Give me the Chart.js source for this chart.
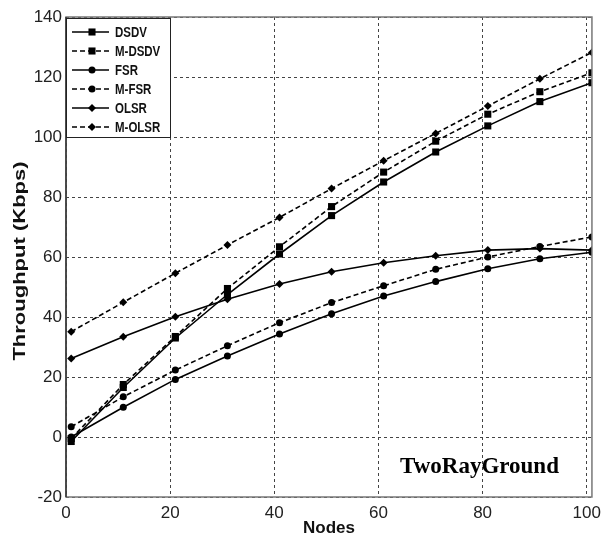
<!DOCTYPE html>
<html>
<head>
<meta charset="utf-8">
<script src="https://cdn.jsdelivr.net/npm/chart.js@4"></script>
<style>
  html, body { margin: 0; padding: 0; background: #fff; }
  #wrap { width: 607px; height: 537px; }
</style>
</head>
<body>
<div id="wrap"><canvas id="c" width="607" height="537"></canvas></div>
<script>
// Throughput vs. number of nodes, TwoRayGround propagation model
const nodes = [1, 11, 21, 31, 41, 51, 61, 71, 81, 91, 101];
const dsdv  = [-1.5, 16.5, 33.0, 47.5, 61.0, 73.8, 85.0, 95.0, 103.7, 111.8, 118.1];
const mDsdv = [-0.5, 17.5, 33.5, 49.5, 63.4, 76.8, 88.3, 98.6, 107.6, 115.1, 121.4];
const fsr   = [0.0, 9.9, 19.2, 27.0, 34.3, 41.1, 47.0, 51.8, 56.1, 59.4, 61.6];
const mFsr  = [3.4, 13.4, 22.3, 30.4, 38.1, 44.8, 50.4, 55.9, 60.0, 63.5, 66.7];
const olsr  = [26.2, 33.4, 40.1, 45.9, 51.0, 55.1, 58.1, 60.4, 62.3, 62.8, 62.3];
const mOlsr = [35.1, 44.9, 54.6, 64.0, 73.2, 82.8, 92.1, 101.2, 110.3, 119.4, 128.2];
const seriesNames = ['DSDV', 'M-DSDV', 'FSR', 'M-FSR', 'OLSR', 'M-OLSR'];
const xTicks = [0, 20, 40, 60, 80, 100];
const yTicks = [-20, 0, 20, 40, 60, 80, 100, 120, 140];
const xTitle = 'Nodes';
const yTitle = 'Throughput (Kbps)';
const annotation = 'TwoRayGround';

const sans = "'Liberation Sans', Arial, sans-serif";
const DASH = [5, 3];

const styles = [
  { point: 'rect',    radius: 5,   dash: [] },
  { point: 'rect',    radius: 5,   dash: DASH },
  { point: 'circle',  radius: 3.5, dash: [] },
  { point: 'circle',  radius: 3.5, dash: DASH },
  { point: 'rectRot', radius: 4,   dash: [] },
  { point: 'rectRot', radius: 4,   dash: DASH }
];
const values = [dsdv, mDsdv, fsr, mFsr, olsr, mOlsr];

const datasets = values.map((vals, i) => ({
  label: seriesNames[i],
  data: nodes.map((n, k) => ({ x: n, y: vals[k] })),
  borderColor: '#000',
  backgroundColor: '#000',
  borderWidth: 1.6,
  borderDash: styles[i].dash,
  pointStyle: styles[i].point,
  pointRadius: styles[i].radius,
  pointBorderWidth: 0,
  pointBackgroundColor: '#000',
  tension: 0,
  fill: false
}));

function marker(ctx, style, x, y, r) {
  ctx.beginPath();
  if (style === 'rect') {
    const s = Math.SQRT1_2 * r;
    ctx.rect(x - s, y - s, 2 * s, 2 * s);
  } else if (style === 'circle') {
    ctx.arc(x, y, r, 0, Math.PI * 2);
  } else {
    ctx.moveTo(x - r, y); ctx.lineTo(x, y - r); ctx.lineTo(x + r, y); ctx.lineTo(x, y + r);
    ctx.closePath();
  }
  ctx.fill();
}

const decor = {
  id: 'decor',
  afterDatasetsDraw(chart) {
    const { ctx, chartArea: a } = chart;
    ctx.save();
    // plot frame
    ctx.setLineDash([]);
    ctx.lineWidth = 1.5;
    ctx.strokeStyle = '#777';
    ctx.strokeRect(a.left, a.top, a.right - a.left, a.bottom - a.top);
    ctx.strokeStyle = '#333';
    ctx.beginPath();
    ctx.moveTo(a.left, a.top); ctx.lineTo(a.left, a.bottom);
    ctx.stroke();

    // legend box in the upper-left corner
    const bx = a.left, by = a.top + 1, bw = 104, bh = 119;
    ctx.fillStyle = '#fff';
    ctx.fillRect(bx, by, bw, bh);
    ctx.strokeStyle = '#222';
    ctx.lineWidth = 1;
    ctx.strokeRect(bx + 0.5, by + 0.5, bw, bh);
    chart.data.datasets.forEach((ds, i) => {
      const y = by + 14 + i * 19;
      ctx.strokeStyle = '#000';
      ctx.lineWidth = 1.6;
      ctx.setLineDash(ds.borderDash || []);
      ctx.beginPath();
      ctx.moveTo(bx + 6, y);
      ctx.lineTo(bx + 43, y);
      ctx.stroke();
      ctx.setLineDash([]);
      ctx.fillStyle = '#000';
      marker(ctx, ds.pointStyle, bx + 26, y, ds.pointRadius);
      ctx.save();
      ctx.translate(bx + 49, y + 1);
      ctx.scale(0.82, 1);
      ctx.font = 'bold 14px ' + sans;
      ctx.textAlign = 'left';
      ctx.textBaseline = 'middle';
      ctx.fillStyle = '#111';
      ctx.fillText(ds.label, 0, 0);
      ctx.restore();
    });

    // propagation model caption
    ctx.font = "bold 23px 'Liberation Serif', 'Times New Roman', serif";
    ctx.textAlign = 'right';
    ctx.textBaseline = 'alphabetic';
    ctx.fillStyle = '#000';
    ctx.fillText(annotation, a.right - 33, a.bottom - 24);

    // y-axis title, rotated
    ctx.save();
    ctx.translate(20, (a.top + a.bottom) / 2 + 4);
    ctx.rotate(-Math.PI / 2);
    ctx.scale(1, 0.76);
    ctx.font = 'bold 22px ' + sans;
    ctx.textAlign = 'center';
    ctx.textBaseline = 'middle';
    ctx.fillStyle = '#111';
    ctx.fillText(yTitle, 0, 0);
    ctx.restore();
    ctx.restore();
  }
};

new Chart(document.getElementById('c'), {
  type: 'line',
  data: { datasets },
  options: {
    responsive: false,
    animation: false,
    devicePixelRatio: 1,
    layout: { padding: { left: 0, right: 9, top: 17, bottom: 0 } },
    plugins: { legend: { display: false }, tooltip: { enabled: false } },
    scales: {
      x: {
        type: 'linear',
        min: 0,
        max: 101,
        afterBuildTicks: s => { s.ticks = xTicks.map(v => ({ value: v })); },
        afterFit: s => { s.height = 40; },
        border: { display: false, dash: [3, 3] },
        grid: { color: '#444', lineWidth: 1, drawTicks: false },
        ticks: { color: '#222', padding: 6, font: { family: sans, size: 17 }, maxRotation: 0, autoSkip: false },
        title: { display: true, text: xTitle, color: '#111', padding: { top: 0, bottom: 0 },
                 font: { family: sans, size: 17, weight: 'bold', lineHeight: 1 } }
      },
      y: {
        min: -20,
        max: 140,
        afterBuildTicks: s => { s.ticks = yTicks.map(v => ({ value: v })); },
        afterFit: s => { s.width = 66; },
        border: { display: false, dash: [3, 3] },
        grid: { color: '#444', lineWidth: 1, drawTicks: false },
        ticks: { color: '#222', padding: 4, font: { family: sans, size: 17 } },
        title: { display: false }
      }
    }
  },
  plugins: [decor]
});
</script>
</body>
</html>
